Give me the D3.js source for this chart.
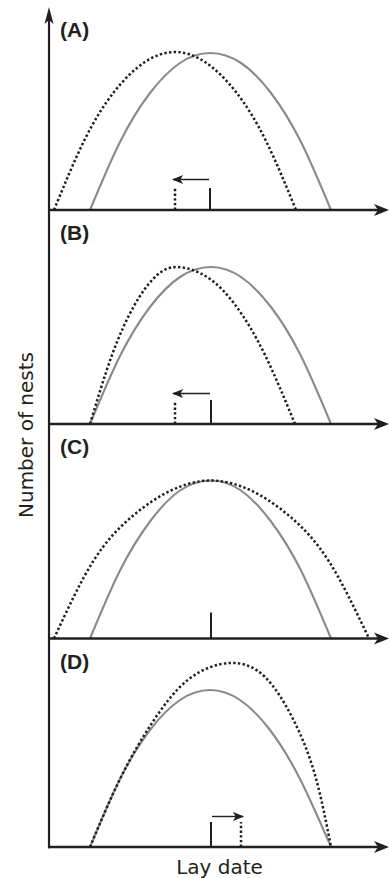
<!DOCTYPE html>
<html>
<head>
<meta charset="utf-8">
<script src="https://cdn.jsdelivr.net/npm/d3@7"></script>
<style>
  body { margin: 0; background: #fff; }
  svg { display: block; }
</style>
</head>
<body>
<script>
// data: [lay date, number of nests], per panel
const panelLabels = ["(A)", "(B)", "(C)", "(D)"];

const solidA = [[41,0],[71,68],[101,117],[131,147],[161,157],[192,147],[222,117],[252,68],[282,0]];
const dottedA = [[5,0],[35,69],[65,118],[96,148],[126,158],[156,148],[187,118],[217,69],[247,0]];

const solidB = [[41,0],[71,68],[101,117],[131,147],[162,157],[192,147],[222,117],[252,68],[282,0]];
const dottedB = [[41,0],[63,69],[85,118],[106,147],[128,157],[158,147],[187,118],[216,69],[246,0]];

const solidC = [[41,0],[71,68],[101,117],[131,148],[162,158],[192,148],[222,117],[252,68],[282,0]];
const dottedC = [[5,0],[44,77],[83,122],[122,148],[162,158],[202,148],[241,122],[280,77],[320,0]];

const solidD = [[41,0],[71,68],[101,117],[131,147],[161,157],[191,147],[221,117],[251,68],[282,0]];
const dottedD = [[41,0],[71,68],[103,124],[140,168],[182,184],[216,170],[244,128],[266,72],[282,0]];

// mean lay date ticks (x) and their heights
const solidMean = [161, 162, 162, 162];
const dottedMean = [126, 126, null, 192];
const solidTick = [22, 24, 26, 25];
const dottedTick = [22, 22, null, 25];

const xLabel = "Lay date";
const yLabel = "Number of nests";

const curves = [[solidA, dottedA], [solidB, dottedB], [solidC, dottedC], [solidD, dottedD]];

//layout
const width = 389, height = 878;
const axisX = 49;
const baselines = [210, 424, 638.5, 847];
const tops = [7, 210, 424, 638.5];
const ink = "#231f20";
const grey = "#8a8a8a";

const svg = d3.select("body")
              .append("svg")
              .attr("width", width)
              .attr("height", height);

const defs = svg.append("defs");
defs.append("marker")
    .attr("id", "head")
    .attr("viewBox", "0 0 10 8")
    .attr("refX", 9)
    .attr("refY", 4)
    .attr("markerUnits", "userSpaceOnUse")
    .attr("markerWidth", 12)
    .attr("markerHeight", 9)
    .attr("orient", "auto")
    .append("path")
    .attr("d", "M0,0L10,4L0,8L2.5,4Z")
    .attr("fill", ink);

const xScale = d3.scaleLinear().domain([0, 340]).range([axisX, width]);

panelLabels.forEach((lab, i) => {
  const base = baselines[i];
  const yScale = d3.scaleLinear().domain([0, 200]).range([base, base - 200]);
  const line = d3.line()
                 .x(d => xScale(d[0]))
                 .y(d => yScale(d[1]))
                 .curve(d3.curveNatural);
  const g = svg.append("g").attr("class", "panel");

  // solid (grey) curve
  g.append("path")
   .datum(curves[i][0])
   .attr("d", line)
   .attr("fill", "none")
   .attr("stroke", grey)
   .attr("stroke-width", 2.1);
  // dotted curve
  g.append("path")
   .datum(curves[i][1])
   .attr("d", line)
   .attr("fill", "none")
   .attr("stroke", ink)
   .attr("stroke-width", 2.5)
   .attr("stroke-dasharray", "2.4,2.3");

  // mean ticks
  g.append("line")
   .attr("x1", xScale(solidMean[i])).attr("x2", xScale(solidMean[i]))
   .attr("y1", base).attr("y2", yScale(solidTick[i]))
   .attr("stroke", ink).attr("stroke-width", 2);
  if (dottedMean[i] != null) {
    g.append("line")
     .attr("x1", xScale(dottedMean[i])).attr("x2", xScale(dottedMean[i]))
     .attr("y1", base).attr("y2", yScale(dottedTick[i]))
     .attr("stroke", ink).attr("stroke-width", 2.5)
     .attr("stroke-dasharray", "2.4,2.3");
    // shift arrow
    const dir = dottedMean[i] < solidMean[i] ? -1 : 1;
    g.append("line")
     .attr("x1", xScale(solidMean[i]) + dir * 1)
     .attr("x2", xScale(dottedMean[i]) + dir * 2)
     .attr("y1", yScale(30.5)).attr("y2", yScale(30.5))
     .attr("stroke", ink).attr("stroke-width", 1.4)
     .attr("marker-end", "url(#head)");
  }

  // x axis line with arrow
  g.append("line")
   .attr("x1", axisX - 1).attr("x2", width - 8)
   .attr("y1", base).attr("y2", base)
   .attr("stroke", ink).attr("stroke-width", 2.6);
  g.append("path")
   .attr("d", "M" + width + "," + base + "L" + (width - 15) + "," + (base - 6) +
               "L" + (width - 11) + "," + base + "L" + (width - 15) + "," + (base + 6) + "Z")
   .attr("fill", ink);

  // panel label
  g.append("text")
   .attr("x", 60)
   .attr("y", tops[i] + 30)
   .style("font-family", "'Liberation Sans', Arial, sans-serif")
   .style("font-weight", "bold")
   .style("font-size", "21px")
   .attr("fill", ink)
   .text(lab);
});

// y axis with arrow
svg.append("line")
   .attr("x1", axisX).attr("x2", axisX)
   .attr("y1", 20).attr("y2", baselines[3] + 1.3)
   .attr("stroke", ink).attr("stroke-width", 2.2);
svg.append("path")
   .attr("d", "M" + axisX + ",7L" + (axisX + 4.5) + ",24L" + axisX + ",20L" + (axisX - 4.5) + ",24Z")
   .attr("fill", ink);

// axis titles
svg.append("text")
   .attr("transform", "translate(33,435) rotate(-90)")
   .style("text-anchor", "middle")
   .style("font-family", "'DejaVu Sans', sans-serif")
   .style("font-size", "20px")
   .attr("fill", ink)
   .text(yLabel);
svg.append("text")
   .attr("x", 219.5)
   .attr("y", 874)
   .style("text-anchor", "middle")
   .style("font-family", "'DejaVu Sans', sans-serif")
   .style("font-size", "20px")
   .attr("fill", ink)
   .text(xLabel);
</script>
</body>
</html>
